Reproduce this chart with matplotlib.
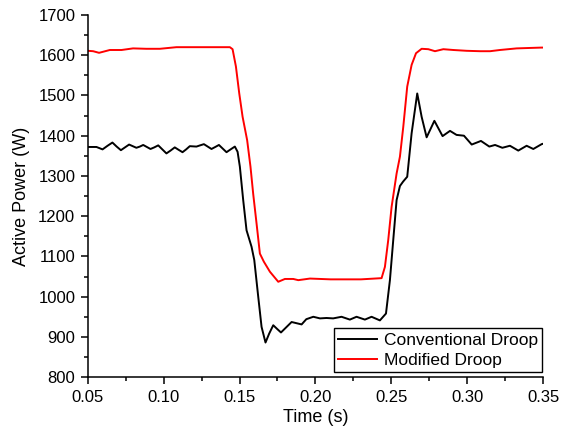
import numpy as np
import matplotlib
matplotlib.use("Agg")
import matplotlib.pyplot as plt
from matplotlib.ticker import MultipleLocator

plt.rcParams['font.family'] = ['Liberation Sans', 'DejaVu Sans']

# Conventional droop (black)
t_conv = [0.0500, 0.0557, 0.0597, 0.0630, 0.0662, 0.0690, 0.0718, 0.0745, 0.0772, 0.0796,
          0.0820, 0.0843, 0.0865, 0.0889, 0.0913, 0.0938, 0.0964, 0.0991, 0.1018, 0.1045,
          0.1073, 0.1098, 0.1124, 0.1148, 0.1172, 0.1216, 0.1240, 0.1265, 0.1290, 0.1315,
          0.1340, 0.1364, 0.1389, 0.1414, 0.1441, 0.1469, 0.1487, 0.1502, 0.1524, 0.1546,
          0.1579, 0.1597, 0.1623, 0.1645, 0.1671, 0.1695, 0.1722, 0.1747, 0.1773, 0.1808,
          0.1843, 0.1876, 0.1909, 0.1940, 0.1986, 0.2030, 0.2073, 0.2117, 0.2172, 0.2227,
          0.2271, 0.2326, 0.2370, 0.2425, 0.2465, 0.2491, 0.2513, 0.2535, 0.2557, 0.2578,
          0.2605, 0.2634, 0.2671, 0.2700, 0.2733, 0.2784, 0.2838, 0.2887, 0.2930, 0.2979,
          0.3030, 0.3091, 0.3146, 0.3184, 0.3232, 0.3282, 0.3337, 0.3392, 0.3436, 0.3491,
          0.3500]
p_conv = [1372, 1372, 1366, 1375, 1383, 1373, 1364, 1371, 1378, 1374,
          1370, 1373, 1377, 1372, 1367, 1371, 1376, 1366, 1356, 1363,
          1371, 1365, 1359, 1366, 1374, 1373, 1376, 1379, 1373, 1367,
          1372, 1377, 1368, 1359, 1366, 1373, 1360, 1323, 1240, 1165,
          1124, 1091, 1000, 925, 886, 908, 929, 920, 911, 924,
          937, 934, 931, 944, 950, 946, 947, 946, 950, 943,
          950, 943, 950, 941, 958, 1041, 1141, 1240, 1275, 1286,
          1298, 1406, 1505, 1447, 1396, 1437, 1399, 1412, 1402, 1400,
          1378, 1387, 1373, 1377, 1370, 1375, 1363, 1375, 1367, 1379,
          1380]

# Modified droop (red)
t_mod = [0.0500, 0.0535, 0.0574, 0.0645, 0.0722, 0.0798, 0.0886, 0.0975, 0.1084, 0.1436,
         0.1454, 0.1476, 0.1498, 0.1520, 0.1550, 0.1572, 0.1590, 0.1612, 0.1634, 0.1660,
         0.1700, 0.1755, 0.1799, 0.1854, 0.1887, 0.1964, 0.2100, 0.2300, 0.2436, 0.2458,
         0.2480, 0.2502, 0.2535, 0.2557, 0.2579, 0.2605, 0.2634, 0.2663, 0.2700, 0.2744,
         0.2788, 0.2843, 0.2909, 0.2997, 0.3085, 0.3151, 0.3216, 0.3326, 0.3490, 0.3500]
p_mod = [1611, 1610, 1606, 1613, 1613, 1617, 1616, 1616, 1620, 1620,
         1615, 1572, 1505, 1447, 1389, 1323, 1255, 1182, 1107, 1087,
         1062, 1037, 1044, 1044, 1041, 1045, 1043, 1043, 1046, 1074,
         1141, 1223, 1306, 1348, 1422, 1522, 1576, 1605, 1616, 1615,
         1610, 1615, 1613, 1611, 1610, 1610, 1613, 1617, 1619, 1619]

fig = plt.figure(figsize=(5.63, 4.32), dpi=100)
ax = fig.add_axes([0.156, 0.127, 0.8085, 0.8383])

ax.plot(t_conv, p_conv, color='black', lw=1.4, label='Conventional Droop',
        solid_joinstyle='round')
ax.plot(t_mod, p_mod, color='red', lw=1.4, label='Modified Droop',
        solid_joinstyle='round')

ax.set_xlim(0.05, 0.35)
ax.set_ylim(800, 1700)
ax.xaxis.set_major_locator(MultipleLocator(0.05))
ax.xaxis.set_minor_locator(MultipleLocator(0.025))
ax.yaxis.set_major_locator(MultipleLocator(100))
ax.yaxis.set_minor_locator(MultipleLocator(50))
ax.xaxis.set_major_formatter(plt.FormatStrFormatter('%.2f'))

for s in ('top', 'right'):
    ax.spines[s].set_visible(False)
for s in ('left', 'bottom'):
    ax.spines[s].set_linewidth(1.1)

ax.tick_params(which='major', direction='out', length=5, width=1.1, labelsize=12, pad=4)
ax.tick_params(which='minor', direction='out', length=3, width=1.1)

ax.set_xlabel('Time (s)', fontsize=13, labelpad=3)
ax.set_ylabel('Active Power (W)', fontsize=13, labelpad=6)

leg = ax.legend(loc='lower right', bbox_to_anchor=(0.998, 0.013), fontsize=12.5,
                frameon=True, fancybox=False, edgecolor='black', framealpha=1,
                borderpad=0.25, labelspacing=0.3, handlelength=2.2, handletextpad=0.4,
                borderaxespad=0)
leg.get_frame().set_linewidth(1.0)

fig.savefig('out.png', dpi=100)
